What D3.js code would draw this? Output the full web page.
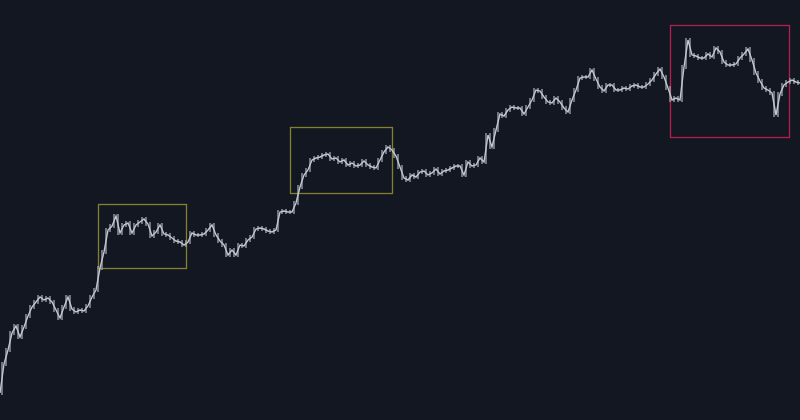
<!DOCTYPE html>
<html><head><meta charset="utf-8">
<script src="https://cdn.jsdelivr.net/npm/d3@7"></script>
<style>html,body{margin:0;padding:0;background:#131722;}svg{display:block;}</style>
</head><body>
<svg id="chart" width="800" height="420"></svg>
<script>
// closing prices per period (arbitrary units)
const closes = [27,56,70,87,94,83,93,104,113,118,123,120,122,118,110,102,113,123,111,108,
110,109,114,123,130,152,168,190,194,204,187,195,197,187,195,198,201,196,184,188,
195,186,185,182,179,178,175,178,187,185,185,186,190,195,185,179,175,165,170,165,
175,174,180,183,191,192,191,189,188,190,208,209,208,208,217,233,245,250,260,262,
263,265,266,261,262,258,260,255,257,254,255,259,255,253,252,260,268,273,270,264,
253,242,240,245,243,248,249,245,247,251,246,249,250,252,254,254,245,258,254,255,
262,258,285,273,290,306,304,310,313,312,312,306,313,320,330,329,323,318,317,322,
318,312,308,320,330,342,343,343,350,341,333,329,335,335,330,330,332,331,334,335,
333,333,336,340,346,351,343,332,320,322,320,353,380,365,364,362,362,366,363,372,
368,358,355,355,356,362,366,371,360,347,339,332,330,327,305,326,335,338,340,338,337];
// highlighted zones: [startIndex, endIndex, lowPrice, highPrice]
const zoneStart = [24.5, 72.5, 167.5];
const zoneEnd = [46.5, 98, 197.3];
const zoneLow = [152, 227, 283];
const zoneHigh = [216, 293, 395];
const zoneColor = ["#85802f", "#85802f", "#b3204f"];

const W = 800, H = 420;
const svg = d3.select("#chart");
const x = d3.scaleLinear().domain([0, closes.length - 1]).range([0, W]);
const y = d3.scaleLinear().domain([0, 420]).range([H, 0]);

// zones
const zones = zoneStart.map((s, i) => ({s, e: zoneEnd[i], lo: zoneLow[i], hi: zoneHigh[i], c: zoneColor[i]}));
svg.selectAll("rect.zone").data(zones).enter().append("rect")
  .attr("class", "zone")
  .attr("x", d => Math.round(x(d.s)) + 0.5)
  .attr("y", d => Math.round(y(d.hi)) + 0.5)
  .attr("width", d => Math.round(x(d.e) - x(d.s)))
  .attr("height", d => Math.round(y(d.lo) - y(d.hi)))
  .attr("fill", "none")
  .attr("stroke", d => d.c)
  .attr("stroke-width", 1.3);

// candles: open = previous close, drawn between periods
const bars = closes.map((c, i) => ({i, o: i ? closes[i - 1] : c, c}));
svg.selectAll("line.bar").data(bars).enter().append("line")
  .attr("class", "bar")
  .attr("x1", d => x(d.i - 0.5)).attr("x2", d => x(d.i - 0.5))
  .attr("y1", d => y(Math.max(d.o, d.c)) - 2)
  .attr("y2", d => y(Math.min(d.o, d.c)) + 2)
  .attr("stroke", "#9a9da6").attr("stroke-width", 1.4);

const line = d3.line().x((d, i) => x(i)).y(d => y(d));
svg.append("path").datum(closes)
  .attr("d", line)
  .attr("fill", "none")
  .attr("stroke", "#c3c6cd")
  .attr("stroke-width", 1.4)
  .attr("stroke-linejoin", "miter");
</script>
</body></html>
